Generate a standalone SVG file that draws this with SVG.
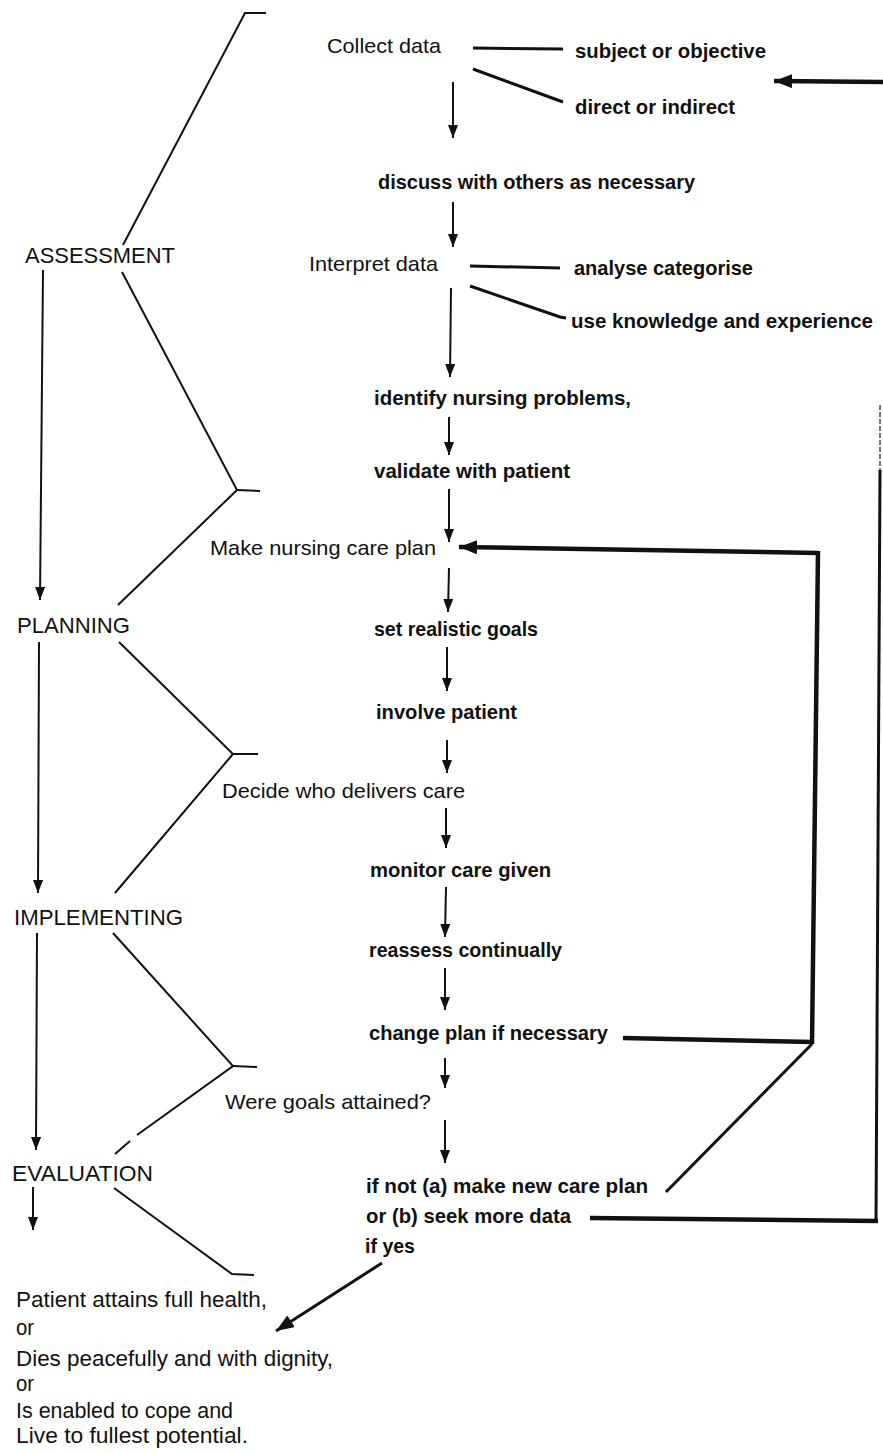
<svg xmlns="http://www.w3.org/2000/svg" width="883" height="1453" viewBox="0 0 883 1453">
<style>
text{fill:#111;font-family:"Liberation Sans",Arial,sans-serif}
.c{font-size:21px;font-weight:bold}
.h{font-size:21px}
.s{font-size:22px}
.b{font-size:22px}
.ln{stroke:#111;stroke-width:2;fill:none}
.md{stroke:#111;stroke-width:3;fill:none}
.tk{stroke:#111;stroke-width:4.5;fill:none}
</style>
<defs>
<marker id="ah" viewBox="0 0 13 10" refX="13" refY="5" markerWidth="13" markerHeight="10" markerUnits="userSpaceOnUse" orient="auto"><path d="M0,0 L13,5 L0,10 Z" fill="#111"/></marker>
<marker id="ahb" viewBox="0 0 18 14" refX="18" refY="7" markerWidth="18" markerHeight="14" markerUnits="userSpaceOnUse" orient="auto"><path d="M0,0 L18,7 L0,14 Z" fill="#111"/></marker>
</defs>
<rect width="883" height="1453" fill="#fff"/>

<g id="connectors">
<polyline class="ln" points="266,13 245,13 123,245"/>
<polyline class="ln" points="122,272 237,490 118,605"/>
<line class="ln" x1="237" y1="490" x2="260" y2="491"/>
<polyline class="ln" points="119,642 233,754 115,893"/>
<line class="ln" x1="233" y1="754" x2="258" y2="754"/>
<polyline class="ln" points="113,933 233,1066 137,1135"/>
<line class="ln" x1="130" y1="1141" x2="115" y2="1154"/>
<line class="ln" x1="233" y1="1066" x2="257" y2="1067"/>
<polyline class="ln" points="114,1188 232,1274 254,1275"/>
<line class="ln" x1="43" y1="270" x2="40" y2="600" marker-end="url(#ah)"/>
<line class="ln" x1="39" y1="642" x2="38" y2="893" marker-end="url(#ah)"/>
<line class="ln" x1="37" y1="933" x2="36" y2="1150" marker-end="url(#ah)"/>
<line class="ln" x1="33" y1="1187" x2="33" y2="1230" marker-end="url(#ah)"/>
<line class="md" x1="473" y1="48" x2="563" y2="49"/>
<line class="md" x1="473" y1="69" x2="563" y2="102"/>
<line class="md" x1="470" y1="266" x2="560" y2="268"/>
<path class="md" d="M470,286 L560,317 L566,318"/>
<line class="ln" x1="453" y1="82" x2="453" y2="138" marker-end="url(#ah)"/>
<line class="ln" x1="453" y1="202" x2="453" y2="247" marker-end="url(#ah)"/>
<line class="ln" x1="451" y1="288" x2="450" y2="377" marker-end="url(#ah)"/>
<line class="ln" x1="449" y1="417" x2="449" y2="455" marker-end="url(#ah)"/>
<line class="ln" x1="449" y1="489" x2="449" y2="542" marker-end="url(#ah)"/>
<line class="ln" x1="449" y1="568" x2="448" y2="612" marker-end="url(#ah)"/>
<line class="ln" x1="447" y1="647" x2="447" y2="691" marker-end="url(#ah)"/>
<line class="ln" x1="447" y1="740" x2="447" y2="773" marker-end="url(#ah)"/>
<line class="ln" x1="446" y1="808" x2="446" y2="848" marker-end="url(#ah)"/>
<line class="ln" x1="446" y1="887" x2="445" y2="937" marker-end="url(#ah)"/>
<line class="ln" x1="445" y1="968" x2="445" y2="1010" marker-end="url(#ah)"/>
<line class="ln" x1="445" y1="1058" x2="445" y2="1088" marker-end="url(#ah)"/>
<line class="ln" x1="445" y1="1120" x2="445" y2="1163" marker-end="url(#ah)"/>
<line class="md" x1="382" y1="1263" x2="276" y2="1331" marker-end="url(#ahb)"/>
<line class="tk" x1="883" y1="82" x2="774" y2="81" marker-end="url(#ahb)"/>
<line class="tk" x1="818" y1="553" x2="459" y2="547" marker-end="url(#ahb)"/>
<line class="tk" x1="818" y1="551" x2="812" y2="1044"/>
<line class="tk" x1="623" y1="1038" x2="814" y2="1042"/>
<line class="md" x1="812" y1="1044" x2="666" y2="1192"/>
<line x1="880" y1="405" x2="880" y2="472" stroke="#777" stroke-width="2" stroke-dasharray="5 2"/>
<line class="md" x1="880" y1="470" x2="876" y2="1222"/>
<line class="tk" x1="590" y1="1218" x2="878" y2="1221"/>
</g>

<g id="assessment"><text class="s" x="25" y="263" textLength="150" lengthAdjust="spacingAndGlyphs">ASSESSMENT</text></g>
<g id="planning"><text class="s" x="17" y="633" textLength="113" lengthAdjust="spacingAndGlyphs">PLANNING</text></g>
<g id="implementing"><text class="s" x="14" y="925" textLength="169" lengthAdjust="spacingAndGlyphs">IMPLEMENTING</text></g>
<g id="evaluation"><text class="s" x="12" y="1181" textLength="141" lengthAdjust="spacingAndGlyphs">EVALUATION</text></g>

<g id="collect"><text class="h" x="327" y="53" textLength="114" lengthAdjust="spacingAndGlyphs">Collect data</text></g>
<g id="subject"><text class="c" x="575" y="58" textLength="191" lengthAdjust="spacingAndGlyphs">subject or objective</text></g>
<g id="direct"><text class="c" x="575" y="114" textLength="160" lengthAdjust="spacingAndGlyphs">direct or indirect</text></g>
<g id="discuss"><text class="c" x="378" y="189" textLength="317" lengthAdjust="spacingAndGlyphs">discuss with others as necessary</text></g>
<g id="interpret"><text class="h" x="309" y="271" textLength="129" lengthAdjust="spacingAndGlyphs">Interpret data</text></g>
<g id="analyse"><text class="c" x="574" y="275" textLength="179" lengthAdjust="spacingAndGlyphs">analyse categorise</text></g>
<g id="knowledge"><text class="c" x="571" y="328" textLength="302" lengthAdjust="spacingAndGlyphs">use knowledge and experience</text></g>
<g id="identify"><text class="c" x="374" y="405" textLength="257" lengthAdjust="spacingAndGlyphs">identify nursing problems,</text></g>
<g id="validate"><text class="c" x="374" y="478" textLength="196" lengthAdjust="spacingAndGlyphs">validate with patient</text></g>
<g id="makeplan"><text class="h" x="210" y="555" textLength="226" lengthAdjust="spacingAndGlyphs">Make nursing care plan</text></g>
<g id="goals"><text class="c" x="374" y="636" textLength="164" lengthAdjust="spacingAndGlyphs">set realistic goals</text></g>
<g id="involve"><text class="c" x="376" y="719" textLength="141" lengthAdjust="spacingAndGlyphs">involve patient</text></g>
<g id="decide"><text class="h" x="222" y="798" textLength="243" lengthAdjust="spacingAndGlyphs">Decide who delivers care</text></g>
<g id="monitor"><text class="c" x="370" y="877" textLength="181" lengthAdjust="spacingAndGlyphs">monitor care given</text></g>
<g id="reassess"><text class="c" x="369" y="957" textLength="193" lengthAdjust="spacingAndGlyphs">reassess continually</text></g>
<g id="change"><text class="c" x="369" y="1040" textLength="239" lengthAdjust="spacingAndGlyphs">change plan if necessary</text></g>
<g id="attained"><text class="h" x="225" y="1109" textLength="206" lengthAdjust="spacingAndGlyphs">Were goals attained?</text></g>
<g id="ifnot"><text class="c" x="366" y="1193" textLength="282" lengthAdjust="spacingAndGlyphs">if not (a) make new care plan</text></g>
<g id="seek"><text class="c" x="366" y="1223" textLength="205" lengthAdjust="spacingAndGlyphs">or (b) seek more data</text></g>
<g id="ifyes"><text class="c" x="365" y="1253" textLength="50" lengthAdjust="spacingAndGlyphs">if yes</text></g>

<g id="outcome">
<text class="b" x="16" y="1307" textLength="251" lengthAdjust="spacingAndGlyphs">Patient attains full health,</text>
<text class="b" x="16" y="1335" textLength="18" lengthAdjust="spacingAndGlyphs">or</text>
<text class="b" x="16" y="1366" textLength="317" lengthAdjust="spacingAndGlyphs">Dies peacefully and with dignity,</text>
<text class="b" x="16" y="1391" textLength="18" lengthAdjust="spacingAndGlyphs">or</text>
<text class="b" x="16" y="1418" textLength="217" lengthAdjust="spacingAndGlyphs">Is enabled to cope and</text>
<text class="b" x="16" y="1443" textLength="232" lengthAdjust="spacingAndGlyphs">Live to fullest potential.</text>
</g>
</svg>
